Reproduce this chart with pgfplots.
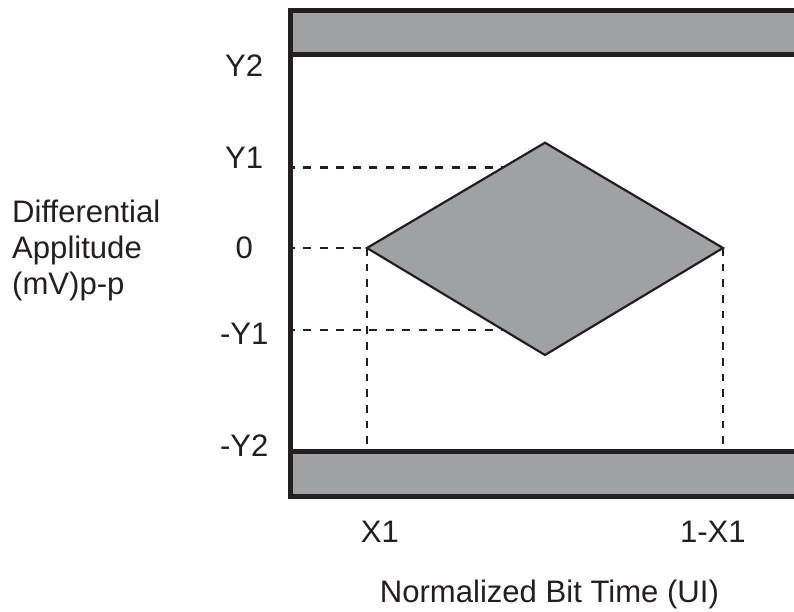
\documentclass[border=0pt]{standalone}
\usepackage{fontspec}
\setmainfont{Liberation Sans}
\usepackage{pgfplots}
\pgfplotsset{compat=1.18}
\definecolor{maskgray}{HTML}{A0A1A3}
\definecolor{ink}{HTML}{231F20}
\newcommand{\lblfont}{\fontsize{31.2}{36}\selectfont}

\begin{document}
\begin{tikzpicture}
\begin{axis}[
	scale only axis,
	width=503.3bp,
	height=485.9bp,
	xmin=0, xmax=0.9896,
	ymin=-248.7, ymax=237.2,
	clip=false,
	axis line style={draw=none},
	tick style={draw=none},
	xtick={0.1756,0.830},
	xticklabels={X1,1-X1},
	ytick={-198,-86,0,90,182},
	yticklabels={-Y2,-Y1,0,Y1,Y2},
	ticklabel style={font=\lblfont, text=ink, inner sep=0pt},
	yticklabel style={anchor=center, xshift=-46.5bp},
	xticklabel style={anchor=center, yshift=-35bp},
	xlabel={Normalized Bit Time (UI)},
	xlabel style={at={(axis description cs:0.514,-0.2167)}, anchor=base, inner sep=0pt, font=\lblfont, text=ink},
	ylabel={Differential\\Applitude\\(mV)p-p},
	ylabel style={at={(axis description cs:-0.5537,0.6106)}, rotate=-90, anchor=north west, align=left, inner sep=0pt, font=\lblfont, text=ink},
]
% keep-out bands
\addplot[draw=none, fill=maskgray] coordinates {(0,193.5) (0.9896,193.5) (0.9896,237.2) (0,237.2)};
\addplot[draw=none, fill=maskgray] coordinates {(0,-248.7) (0.9896,-248.7) (0.9896,-203.7) (0,-203.7)};
% dashed guides
\addplot[ink, line width=2.4bp, dash pattern=on 8bp off 8.5bp, dash phase=4bp] coordinates {(0,80.3) (0.5,80.3)};
\addplot[ink, line width=2.4bp, dash pattern=on 8bp off 8.5bp, dash phase=4bp] coordinates {(0,0) (0.15,0)};
\addplot[ink, line width=2.4bp, dash pattern=on 8bp off 8.5bp, dash phase=4bp] coordinates {(0,-82.3) (0.5,-82.3)};
\addplot[ink, line width=2.4bp, dash pattern=on 7.7bp off 8bp] coordinates {(0.15,0) (0.15,-203.7)};
\addplot[ink, line width=2.4bp, dash pattern=on 7.7bp off 8bp] coordinates {(0.85,0) (0.85,-203.7)};
% eye opening
\addplot[ink, line width=2.2bp, fill=maskgray, line join=miter] coordinates {(0.15,0) (0.5,105.3) (0.85,0) (0.5,-107) (0.15,0)} -- cycle;
% mask outline
\addplot[ink, line width=5bp, line join=miter] coordinates {(0.9896,237.2) (0,237.2) (0,-248.7) (0.9896,-248.7)};
\addplot[ink, line width=5bp] coordinates {(0,193.5) (0.9896,193.5)};
\addplot[ink, line width=5bp] coordinates {(0,-203.7) (0.9896,-203.7)};
\end{axis}
\pgfresetboundingbox
\path[use as bounding box] ([xshift=-290.7bp, yshift=10.8bp]current axis.north west) rectangle ([yshift=-115.3bp]current axis.south east);
\end{tikzpicture}
\end{document}
